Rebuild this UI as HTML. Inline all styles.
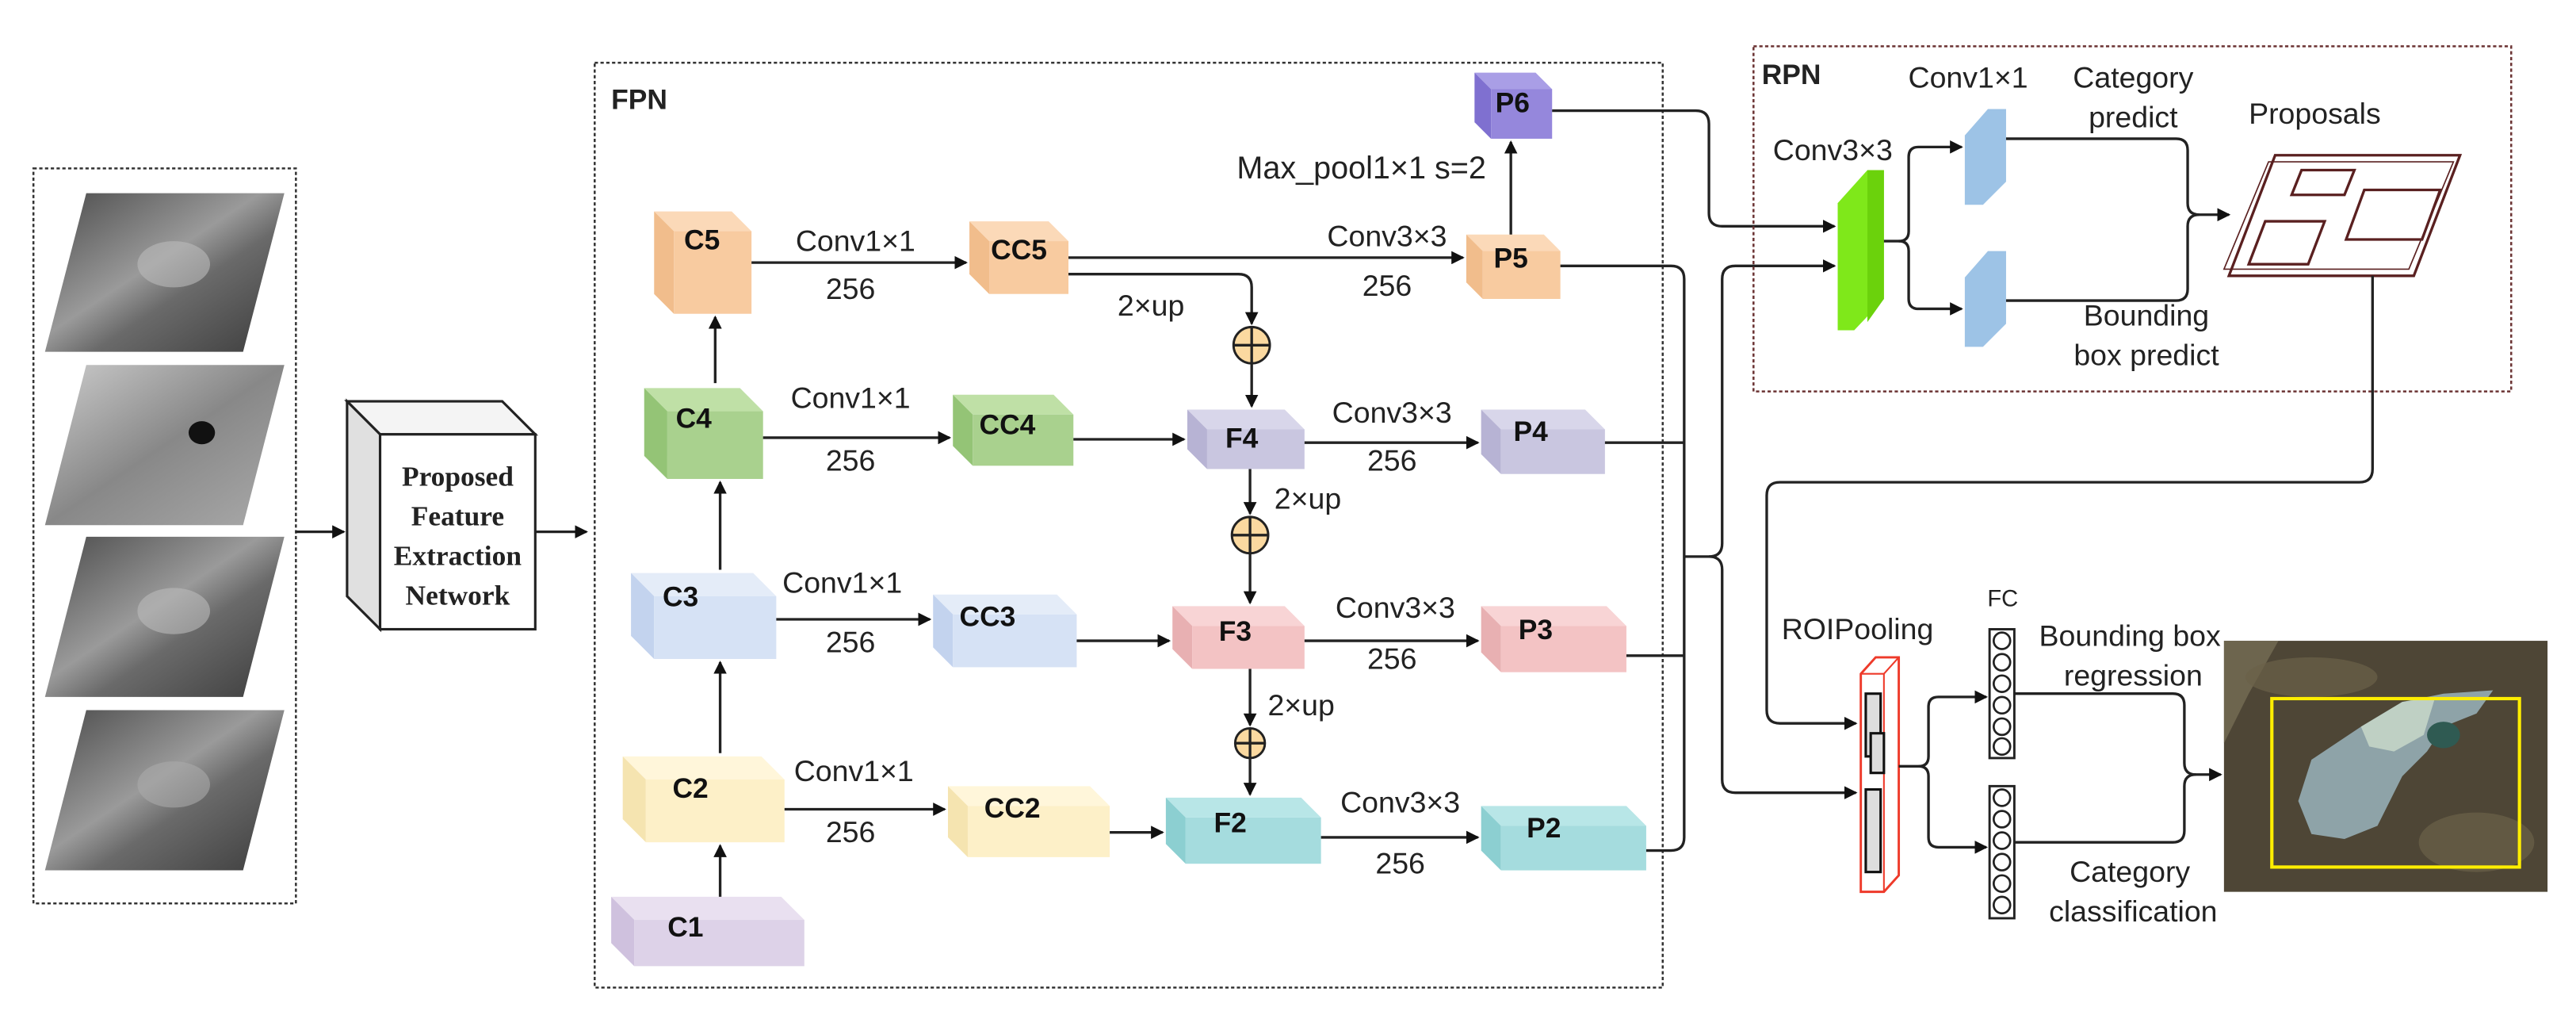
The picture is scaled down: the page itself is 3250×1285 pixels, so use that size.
<!DOCTYPE html>
<html><head><meta charset="utf-8"><style>
html,body{margin:0;padding:0;background:#fff;}
svg{display:block;}
text{font-family:"Liberation Sans",Arial,sans-serif;fill:#222;}
.b{font-weight:bold;font-size:17px;text-anchor:middle;fill:#111;}
.t{font-size:18px;text-anchor:middle;}
.s{font-size:17px;text-anchor:middle;}
.ln{fill:none;stroke:#222;stroke-width:1.6;}
.a{fill:none;stroke:#222;stroke-width:1.6;marker-end:url(#ar);}
</style></head><body>
<svg width="3250" height="1285" viewBox="0 0 1560 617" xmlns="http://www.w3.org/2000/svg">
<defs>
<marker id="ar" markerWidth="8" markerHeight="8" refX="7" refY="4" orient="auto" markerUnits="userSpaceOnUse"><path d="M0,0 L8,4 L0,8 Z" fill="#111"/></marker>
<linearGradient id="g1" x1="0" y1="0" x2="1" y2="1"><stop offset="0" stop-color="#4a4a4a"/><stop offset="0.45" stop-color="#9a9a9a"/><stop offset="0.6" stop-color="#6a6a6a"/><stop offset="1" stop-color="#3c3c3c"/></linearGradient>
<linearGradient id="g2" x1="0" y1="0" x2="1" y2="1"><stop offset="0" stop-color="#ccc"/><stop offset="0.5" stop-color="#888"/><stop offset="1" stop-color="#aaa"/></linearGradient>
</defs>
<rect width="1560" height="617" fill="#fff"/>

<rect x="20" y="102" width="159" height="445" fill="none" stroke="#333" stroke-width="1.2" stroke-dasharray="2,1.5"/>
<polygon points="52,117 172,117 147,213 27,213" fill="url(#g1)"/>
<polygon points="52,221 172,221 147,318 27,318" fill="url(#g2)"/>
<polygon points="52,325 172,325 147,422 27,422" fill="url(#g1)"/>
<polygon points="52,430 172,430 147,527 27,527" fill="url(#g1)"/>
<ellipse cx="105" cy="160" rx="22" ry="14" fill="#bbb" opacity="0.6"/>
<ellipse cx="105" cy="370" rx="22" ry="14" fill="#bbb" opacity="0.6"/>
<ellipse cx="105" cy="475" rx="22" ry="14" fill="#aaa" opacity="0.6"/>
<ellipse cx="122" cy="262" rx="8" ry="7" fill="#111"/>

<line x1="179" y1="322" x2="208" y2="322" class="a"/>
<polygon points="210,243 304,243 324,263 230,263" fill="#f4f4f4" stroke="#222" stroke-width="1.5"/>
<polygon points="210,243 230,263 230,381 210,361" fill="#e0e0e0" stroke="#222" stroke-width="1.5"/>
<rect x="230" y="263" width="94" height="118" fill="#fff" stroke="#222" stroke-width="1.5"/>
<g text-anchor="middle">
<text x="277" y="294" style="font-family:'Liberation Serif',serif;font-weight:bold;font-size:17px">Proposed</text>
<text x="277" y="318" style="font-family:'Liberation Serif',serif;font-weight:bold;font-size:17px">Feature</text>
<text x="277" y="342" style="font-family:'Liberation Serif',serif;font-weight:bold;font-size:17px">Extraction</text>
<text x="277" y="366" style="font-family:'Liberation Serif',serif;font-weight:bold;font-size:17px">Network</text>
</g>
<line x1="324" y1="322" x2="355" y2="322" class="a"/>

<rect x="360" y="38" width="647" height="560" fill="none" stroke="#333" stroke-width="1.2" stroke-dasharray="2,1.5"/>
<text x="370" y="66" style="font-weight:bold;font-size:17px">FPN</text>

<g stroke="none">
<polygon points="396,128 443,128 455,140 408,140" fill="#fbd9b8"/><polygon points="396,128 408,140 408,190 396,178" fill="#f1bd8c"/><rect x="408" y="140" width="47" height="50" fill="#f8cba0"/>
<polygon points="587,134 635,134 647,146 599,146" fill="#fbd9b8"/><polygon points="587,134 599,146 599,178 587,166" fill="#f1bd8c"/><rect x="599" y="146" width="48" height="32" fill="#f8cba0"/>
<polygon points="390,235 448,235 462,249 404,249" fill="#bfe0a6"/><polygon points="390,235 404,249 404,290 390,276" fill="#94c476"/><rect x="404" y="249" width="58" height="41" fill="#a9d18e"/>
<polygon points="577,239 638,239 650,251 589,251" fill="#bfe0a6"/><polygon points="577,239 589,251 589,282 577,270" fill="#94c476"/><rect x="589" y="251" width="61" height="31" fill="#a9d18e"/>
<polygon points="382,347 456,347 470,361 396,361" fill="#e4ecf8"/><polygon points="382,347 396,361 396,399 382,385" fill="#c3d3ee"/><rect x="396" y="361" width="74" height="38" fill="#d6e2f5"/>
<polygon points="565,360 640,360 652,372 577,372" fill="#e4ecf8"/><polygon points="565,360 577,372 577,404 565,392" fill="#c3d3ee"/><rect x="577" y="372" width="75" height="32" fill="#d6e2f5"/>
<polygon points="377,458 461,458 475,472 391,472" fill="#fff6da"/><polygon points="377,458 391,472 391,510 377,496" fill="#f5e4b0"/><rect x="391" y="472" width="84" height="38" fill="#fdf0c8"/>
<polygon points="574,476 660,476 672,488 586,488" fill="#fff6da"/><polygon points="574,476 586,488 586,519 574,507" fill="#f5e4b0"/><rect x="586" y="488" width="86" height="31" fill="#fdf0c8"/>
<polygon points="370,543 473,543 487,557 384,557" fill="#e9e0f0"/><polygon points="370,543 384,557 384,585 370,571" fill="#cfc1de"/><rect x="384" y="557" width="103" height="28" fill="#ddd2e8"/>
<polygon points="719,248 778,248 790,260 731,260" fill="#d8d6ea"/><polygon points="719,248 731,260 731,284 719,272" fill="#b7b3d4"/><rect x="731" y="260" width="59" height="24" fill="#c9c6e0"/>
<polygon points="710,367 778,367 790,379 722,379" fill="#f8d4d5"/><polygon points="710,367 722,379 722,405 710,393" fill="#e8b0b2"/><rect x="722" y="379" width="68" height="26" fill="#f3c3c4"/>
<polygon points="706,483 788,483 800,495 718,495" fill="#b8e6e7"/><polygon points="706,483 718,495 718,523 706,511" fill="#8ccfd1"/><rect x="718" y="495" width="82" height="28" fill="#a5dcde"/>
<polygon points="893,44 930,44 940,54 903,54" fill="#a99ee6"/><polygon points="893,44 903,54 903,84 893,74" fill="#7f70d0"/><rect x="903" y="54" width="37" height="30" fill="#9587dc"/>
<polygon points="888,142 935,142 945,152 898,152" fill="#fbd9b8"/><polygon points="888,142 898,152 898,181 888,171" fill="#f1bd8c"/><rect x="898" y="152" width="47" height="29" fill="#f8cba0"/>
<polygon points="897,248 960,248 972,260 909,260" fill="#d8d6ea"/><polygon points="897,248 909,260 909,287 897,275" fill="#b7b3d4"/><rect x="909" y="260" width="63" height="27" fill="#c9c6e0"/>
<polygon points="897,367 973,367 985,379 909,379" fill="#f8d4d5"/><polygon points="897,367 909,379 909,407 897,395" fill="#e8b0b2"/><rect x="909" y="379" width="76" height="28" fill="#f3c3c4"/>
<polygon points="897,488 985,488 997,500 909,500" fill="#b8e6e7"/><polygon points="897,488 909,500 909,527 897,515" fill="#8ccfd1"/><rect x="909" y="500" width="88" height="27" fill="#a5dcde"/>
</g>

<text x="425" y="151" class="b">C5</text><text x="617" y="157" class="b">CC5</text>
<text x="420" y="259" class="b">C4</text><text x="610" y="263" class="b">CC4</text>
<text x="412" y="367" class="b">C3</text><text x="598" y="379" class="b">CC3</text>
<text x="418" y="483" class="b">C2</text><text x="613" y="495" class="b">CC2</text>
<text x="415" y="567" class="b">C1</text>
<text x="752" y="271" class="b">F4</text><text x="748" y="388" class="b">F3</text><text x="745" y="504" class="b">F2</text>
<text x="916" y="68" class="b">P6</text><text x="915" y="162" class="b">P5</text><text x="927" y="267" class="b">P4</text>
<text x="930" y="387" class="b">P3</text><text x="935" y="507" class="b">P2</text>

<line x1="436" y1="543" x2="436" y2="512" class="a"/>
<line x1="436" y1="456" x2="436" y2="401" class="a"/>
<line x1="436" y1="345" x2="436" y2="292" class="a"/>
<line x1="433" y1="232" x2="433" y2="192" class="a"/>

<line x1="455" y1="159" x2="585" y2="159" class="a"/>
<text x="518" y="152" class="t">Conv1×1</text><text x="515" y="181" class="t">256</text>
<line x1="462" y1="265" x2="575" y2="265" class="a"/>
<text x="515" y="247" class="t">Conv1×1</text><text x="515" y="285" class="t">256</text>
<line x1="470" y1="375" x2="563" y2="375" class="a"/>
<text x="510" y="359" class="t">Conv1×1</text><text x="515" y="395" class="t">256</text>
<line x1="475" y1="490" x2="572" y2="490" class="a"/>
<text x="517" y="473" class="t">Conv1×1</text><text x="515" y="510" class="t">256</text>

<line x1="650" y1="266" x2="717" y2="266" class="a"/>
<line x1="652" y1="388" x2="708" y2="388" class="a"/>
<line x1="672" y1="504" x2="704" y2="504" class="a"/>

<line x1="647" y1="156" x2="886" y2="156" class="a"/>
<text x="840" y="149" class="t">Conv3×3</text><text x="840" y="179" class="t">256</text>
<path d="M647,166 L750,166 Q758,166 758,174 L758,196" class="a"/>
<text x="697" y="191" class="t">2×up</text>
<circle cx="758" cy="209" r="11" fill="#fbd9a0" stroke="#222" stroke-width="1.4"/>
<line x1="747" y1="209" x2="769" y2="209" class="ln"/><line x1="758" y1="198" x2="758" y2="220" class="ln"/>
<line x1="758" y1="220" x2="758" y2="246" class="a"/>
<line x1="757" y1="284" x2="757" y2="311" class="a"/>
<text x="792" y="308" class="t">2×up</text>
<circle cx="757" cy="324" r="11" fill="#fbd9a0" stroke="#222" stroke-width="1.4"/>
<line x1="746" y1="324" x2="768" y2="324" class="ln"/><line x1="757" y1="313" x2="757" y2="335" class="ln"/>
<line x1="757" y1="335" x2="757" y2="365" class="a"/>
<line x1="757" y1="405" x2="757" y2="439" class="a"/>
<text x="788" y="433" class="t">2×up</text>
<circle cx="757" cy="450" r="9" fill="#fbd9a0" stroke="#222" stroke-width="1.4"/>
<line x1="748" y1="450" x2="766" y2="450" class="ln"/><line x1="757" y1="441" x2="757" y2="459" class="ln"/>
<line x1="757" y1="459" x2="757" y2="481" class="a"/>

<line x1="790" y1="268" x2="895" y2="268" class="a"/>
<text x="843" y="256" class="t">Conv3×3</text><text x="843" y="285" class="t">256</text>
<line x1="790" y1="388" x2="895" y2="388" class="a"/>
<text x="845" y="374" class="t">Conv3×3</text><text x="843" y="405" class="t">256</text>
<line x1="800" y1="507" x2="895" y2="507" class="a"/>
<text x="848" y="492" class="t">Conv3×3</text><text x="848" y="529" class="t">256</text>

<line x1="915" y1="142" x2="915" y2="86" class="a"/>
<text x="900" y="108" style="font-size:19px;text-anchor:end">Max_pool1×1 s=2</text>

<path d="M940,67 L1027,67 Q1035,67 1035,75 L1035,129 Q1035,137 1043,137 L1111,137" class="a"/>

<path d="M945,161 L1012,161 Q1020,161 1020,169 L1020,507 Q1020,515 1012,515 L997,515" class="ln"/>
<line x1="972" y1="268" x2="1020" y2="268" class="ln"/>
<line x1="985" y1="397" x2="1020" y2="397" class="ln"/>
<path d="M1020,337 L1035,337 Q1043,337 1043,329 L1043,169 Q1043,161 1051,161 L1111,161" class="a"/>
<path d="M1035,337 Q1043,337 1043,345 L1043,472 Q1043,480 1051,480 L1124,480" class="a"/>

<rect x="1062" y="28" width="459" height="209" fill="none" stroke="#6b3333" stroke-width="1.2" stroke-dasharray="2,1.5"/>
<text x="1067" y="51" style="font-weight:bold;font-size:17px">RPN</text>
<text x="1110" y="97" class="t">Conv3×3</text>
<text x="1192" y="53" class="t">Conv1×1</text>
<text x="1292" y="53" class="t">Category</text><text x="1292" y="77" class="t">predict</text>
<text x="1402" y="75" class="t">Proposals</text>
<text x="1300" y="197" class="t">Bounding</text><text x="1300" y="221" class="t">box predict</text>
<polygon points="1113,123 1131,103 1141,103 1141,181 1123,200 1113,200" fill="#7fe81a"/>
<polygon points="1131,103 1141,103 1141,181 1131,195" fill="#6bd20c"/>
<path d="M1141,146 L1150,146 Q1156,146 1156,140 L1156,95 Q1156,89 1162,89 L1188,89" class="a"/>
<path d="M1150,146 Q1156,146 1156,152 L1156,181 Q1156,187 1162,187 L1188,187" class="a"/>
<polygon points="1190,82 1204,66 1215,66 1215,110 1201,124 1190,124" fill="#9dc3e6"/>
<polygon points="1190,168 1204,152 1215,152 1215,196 1201,210 1190,210" fill="#9dc3e6"/>
<path d="M1215,84 L1318,84 Q1325,84 1325,91 L1325,123 Q1325,130 1332,130 L1350,130" class="a"/>
<path d="M1215,182 L1318,182 Q1325,182 1325,175 L1325,137 Q1325,130 1332,130" class="ln"/>
<g fill="none" stroke="#5a2020" stroke-width="1.6">
<polygon points="1378,94 1490,94 1462,167 1350,167"/>
<polygon points="1374,98 1486,98 1459,163 1347,163" stroke-width="0.8"/>
<polygon points="1394,103 1426,103 1420,118 1388,118"/>
<polygon points="1432,115 1478,115 1467,145 1421,145"/>
<polygon points="1372,134 1408,134 1398,160 1362,160"/>
</g>
<path d="M1437,167 L1437,284 Q1437,292 1429,292 L1078,292 Q1070,292 1070,300 L1070,430 Q1070,438 1078,438 L1124,438" class="a"/>

<text x="1125" y="387" class="t">ROIPooling</text>
<polygon points="1127,408 1136,398 1150,398 1150,530 1141,540 1127,540" fill="#fff" stroke="#ee3a2a" stroke-width="1.4"/>
<line x1="1141" y1="408" x2="1150" y2="398" stroke="#ee3a2a" stroke-width="1"/>
<line x1="1141" y1="408" x2="1141" y2="540" stroke="#ee3a2a" stroke-width="1"/>
<line x1="1127" y1="408" x2="1141" y2="408" stroke="#ee3a2a" stroke-width="1"/>
<rect x="1130" y="420" width="9" height="38" fill="#ddd" stroke="#111" stroke-width="1.5"/>
<rect x="1133" y="444" width="8" height="24" fill="#ddd" stroke="#111" stroke-width="1.5"/>
<rect x="1130" y="478" width="9" height="50" fill="#ddd" stroke="#111" stroke-width="1.5"/>
<path d="M1150,464 L1162,464 Q1168,464 1168,458 L1168,428 Q1168,422 1174,422 L1203,422" class="a"/>
<path d="M1162,464 Q1168,464 1168,470 L1168,507 Q1168,513 1174,513 L1203,513" class="a"/>
<text x="1213" y="367" style="font-size:14px;text-anchor:middle">FC</text>
<rect x="1205" y="381" width="15" height="78" fill="#fff" stroke="#222" stroke-width="1.4"/>
<rect x="1205" y="476" width="15" height="80" fill="#fff" stroke="#222" stroke-width="1.4"/>
<g fill="none" stroke="#222" stroke-width="1.3">
<circle cx="1212.5" cy="388" r="5"/><circle cx="1212.5" cy="401" r="5"/><circle cx="1212.5" cy="414" r="5"/><circle cx="1212.5" cy="427" r="5"/><circle cx="1212.5" cy="440" r="5"/><circle cx="1212.5" cy="452" r="5"/>
<circle cx="1212.5" cy="483" r="5"/><circle cx="1212.5" cy="496" r="5"/><circle cx="1212.5" cy="509" r="5"/><circle cx="1212.5" cy="522" r="5"/><circle cx="1212.5" cy="535" r="5"/><circle cx="1212.5" cy="548" r="5"/>
</g>
<text x="1290" y="391" class="t">Bounding box</text><text x="1292" y="415" class="t">regression</text>
<text x="1290" y="534" class="t">Category</text><text x="1292" y="558" class="t">classification</text>
<path d="M1220,420 L1316,420 Q1323,420 1323,427 L1323,462 Q1323,469 1330,469 L1345,469" class="a"/>
<path d="M1220,510 L1316,510 Q1323,510 1323,503 L1323,476 Q1323,469 1330,469" class="ln"/>

<rect x="1347" y="388" width="196" height="152" fill="#4e4636"/>
<path d="M1347,388 L1380,388 L1362,420 L1347,450 Z" fill="#7a7258" opacity="0.7"/>
<ellipse cx="1400" cy="410" rx="40" ry="12" fill="#6b6148" opacity="0.7"/>
<ellipse cx="1500" cy="510" rx="35" ry="18" fill="#6b6148" opacity="0.7"/>
<path d="M1400,460 L1430,440 L1455,425 L1480,420 L1510,418 L1500,432 L1480,440 L1470,455 L1455,470 L1440,500 L1420,508 L1400,505 L1392,485 Z" fill="#8ea3a8"/>
<path d="M1430,440 L1455,425 L1475,422 L1468,445 L1450,455 L1435,452 Z" fill="#bfd0c4"/>
<ellipse cx="1480" cy="445" rx="10" ry="8" fill="#2f5a52"/>
<rect x="1376" y="423" width="150" height="102" fill="none" stroke="#ffee00" stroke-width="2"/>
</svg>
</body></html>
